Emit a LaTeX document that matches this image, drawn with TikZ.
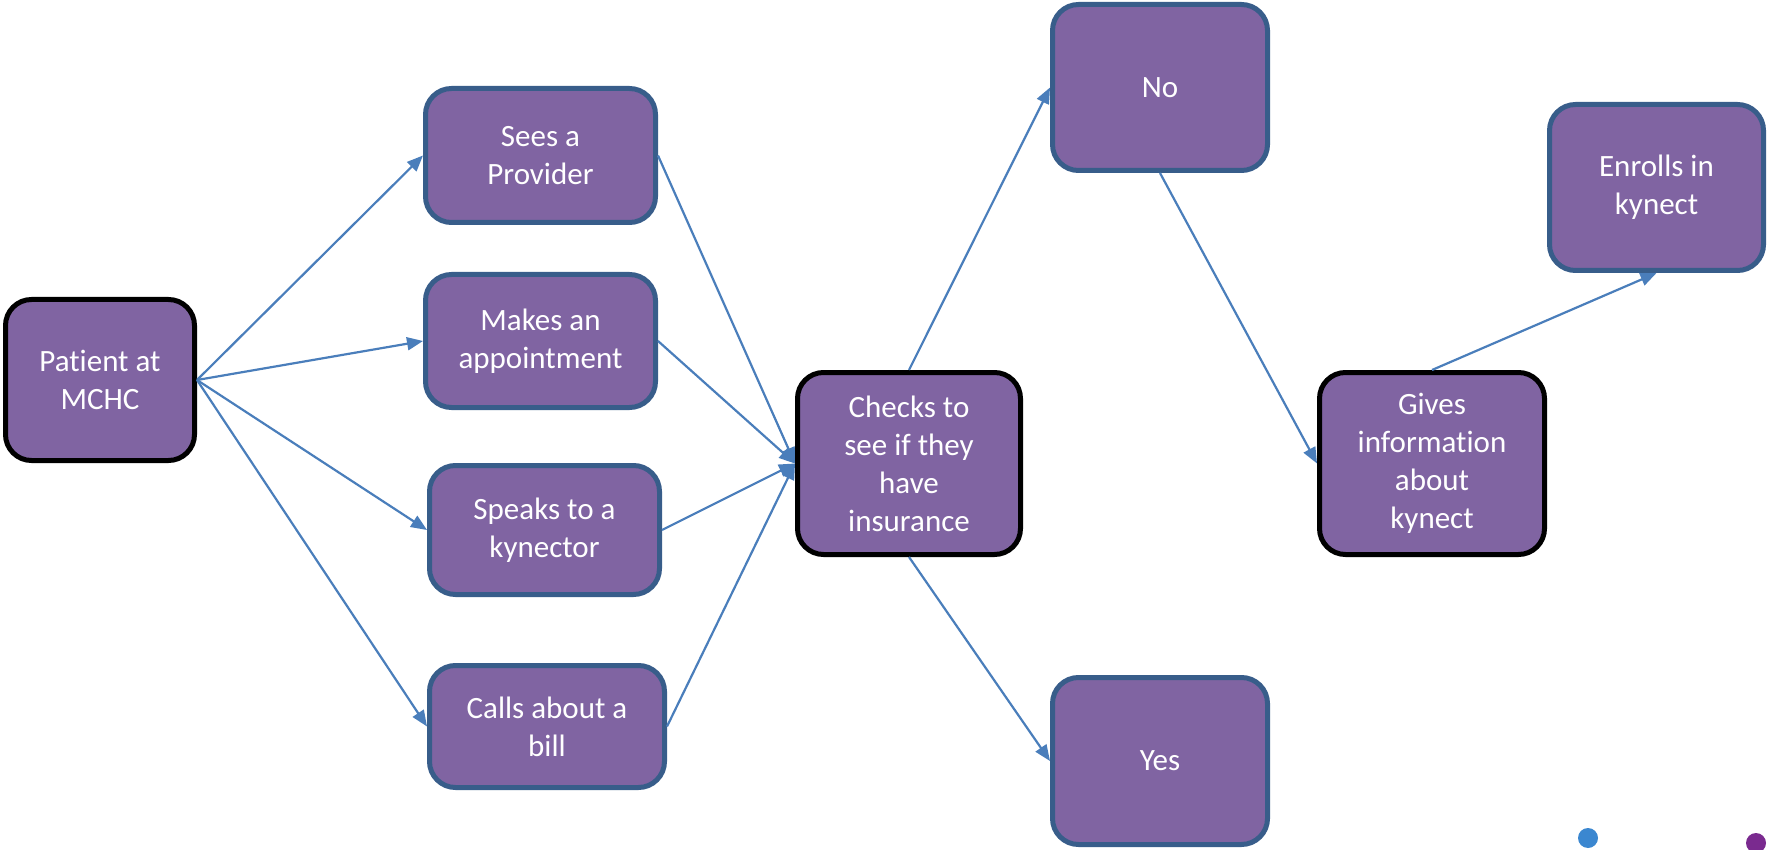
\documentclass[tikz,border=0pt]{standalone}
\usepackage{fontspec}
\setmainfont{Carlito}[Ligatures=NoCommon]
\usetikzlibrary{arrows.meta}
\definecolor{boxfill}{HTML}{8064A2}
\definecolor{boxline}{HTML}{385D8A}
\definecolor{arrowc}{HTML}{4A7EBB}
\definecolor{dotblue}{HTML}{3B87D0}
\definecolor{dotpurple}{HTML}{7A2A8F}
\tikzset{
  stepbox/.style={draw=boxline, fill=boxfill, line width=5pt, rounded corners=26pt,
    text=white, align=center, inner sep=0pt,
    font=\fontsize{31pt}{38pt}\selectfont},
  blackbox/.style={stepbox, draw=black},
  flow/.style={draw=arrowc, line width=2.2pt, -{Triangle[length=16pt,width=13pt]}}
}
\begin{document}
\begin{tikzpicture}[x=1pt,y=-1pt]
\useasboundingbox (0,0) rectangle (1767,850);
\node[blackbox, minimum width=189pt, minimum height=161pt] (patient) at (100,380) {Patient at\\MCHC};
\node[stepbox, minimum width=230pt, minimum height=134pt] (sees) at (540.5,155.5) {Sees a\\Provider};
\node[stepbox, minimum width=230pt, minimum height=133pt] (makes) at (540.5,341) {Makes an\\appointment};
\node[stepbox, minimum width=230pt, minimum height=129pt] (speaks) at (544.5,530) {Speaks to a\\kynector};
\node[stepbox, minimum width=235pt, minimum height=122pt] (calls) at (547,726.5) {Calls about a\\bill};
\node[blackbox, minimum width=223pt, minimum height=182pt] (checks) at (909,463.5) {Checks to\\see if they\\have\\insurance};
\node[stepbox, minimum width=215pt, minimum height=166pt] (no) at (1160,87.5) {No};
\node[stepbox, minimum width=215pt, minimum height=167pt] (yes) at (1160,761) {Yes};
\node[blackbox, minimum width=225pt, minimum height=182pt] (gives) at (1432,463.5) {Gives\\information\\about\\kynect};
\node[stepbox, minimum width=214pt, minimum height=166pt] (enrolls) at (1656.5,187.5) {Enrolls in\\kynect};

\draw[flow] (patient.east) -- (sees.west);
\draw[flow] (patient.east) -- (makes.west);
\draw[flow] (patient.east) -- (speaks.west);
\draw[flow] (patient.east) -- (calls.west);
\draw[flow] (sees.east) -- (checks.west);
\draw[flow] (makes.east) -- (checks.west);
\draw[flow] (speaks.east) -- (checks.west);
\draw[flow] (calls.east) -- (checks.west);
\draw[flow] (checks.north) -- (no.west);
\draw[flow] (checks.south) -- (yes.west);
\draw[flow] (no.south) -- (gives.west);
\draw[flow] (gives.north) -- (enrolls.south);

\fill[dotblue] (1588,838) circle (10pt);
\fill[dotpurple] (1756,843) circle (10pt);
\end{tikzpicture}
\end{document}
